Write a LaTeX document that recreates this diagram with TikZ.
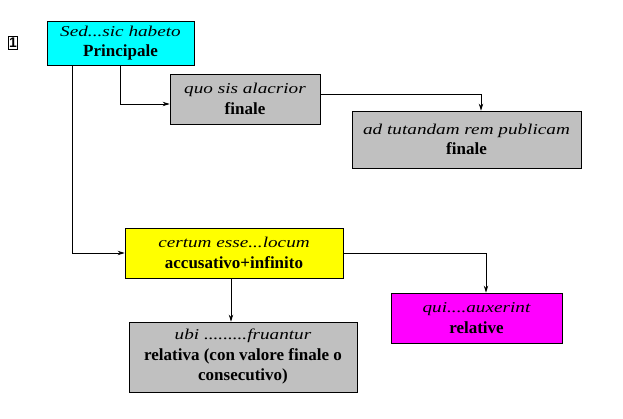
\documentclass[tikz,border=0pt]{standalone}
\usepackage{fontspec}
\setmainfont{Liberation Serif}
\setsansfont{Liberation Sans}
\newfontfamily\latinit[FakeStretch=1.28]{Liberation Serif}
\usetikzlibrary{arrows.meta}
\definecolor{ciano}{RGB}{0,255,255}
\definecolor{giallo}{RGB}{255,255,0}
\definecolor{viola}{RGB}{255,0,255}
\definecolor{grigio}{RGB}{192,192,192}
\newcommand{\grassetto}{\fontsize{17}{20.5}\selectfont\bfseries}
\newcommand{\periodo}[2]{{\latinit\itshape #1}\\\grassetto #2}
\begin{document}
\begin{tikzpicture}[x=1pt,y=-1pt,line width=0.8pt,
    blocco/.style={draw,align=center,inner sep=0pt,font=\fontsize{15}{20.5}\selectfont},
    freccia/.style={-{Stealth[length=7pt,width=4.5pt]}},
    frecciavuota/.style={-{Stealth[open,length=7pt,width=4.5pt]}}]
        \useasboundingbox (0,0) rectangle (623,419);

        % numero del periodo
        \node[draw,inner sep=0pt,minimum width=9pt,minimum height=13pt,font=\sffamily\bfseries\fontsize{14}{14}\selectfont] (num) at (13,43) {1};

        % principale
        \node[blocco,fill=ciano,minimum width=147pt,minimum height=44pt] (princ) at (120.5,43) {\periodo{Sed...sic habeto}{Principale}};

        % finali
        \node[blocco,fill=grigio,minimum width=150pt,minimum height=50pt] (quo) at (245,99) {\periodo{quo sis alacrior}{finale}};
        \node[blocco,fill=grigio,minimum width=229pt,minimum height=57pt] (tut) at (466.5,139.5) {\periodo{ad tutandam rem publicam}{finale}};

        % infinitiva
        \node[blocco,fill=giallo,minimum width=218pt,minimum height=50pt] (cert) at (234,253) {\periodo{certum esse...locum}{accusativo+infinito}};

        % relative
        \node[blocco,fill=viola,minimum width=171pt,minimum height=50pt] (qui) at (476.5,318) {\periodo{qui....auxerint}{relative}};
        \node[blocco,fill=grigio,minimum width=228pt,minimum height=70pt] (ubi) at (243,357) {\periodo{ubi .........fruantur}{relativa (con valore finale o}\\\grassetto consecutivo)};

        % collegamenti
        \draw[freccia] (princ.south) |- ([yshift=-5pt]quo.west);
        \draw[freccia] ([xshift=26pt]princ.south west) |- (cert.west);
        \draw[freccia] ([yshift=5pt]quo.east) -| ([xshift=14.5pt]tut.north);
        \draw[frecciavuota] (cert.east) -| ([xshift=9.5pt]qui.north);
        \draw[freccia] ([xshift=-3pt]cert.south) -- ([xshift=-3pt]cert.south |- ubi.north);
    \end{tikzpicture}
\end{document}
